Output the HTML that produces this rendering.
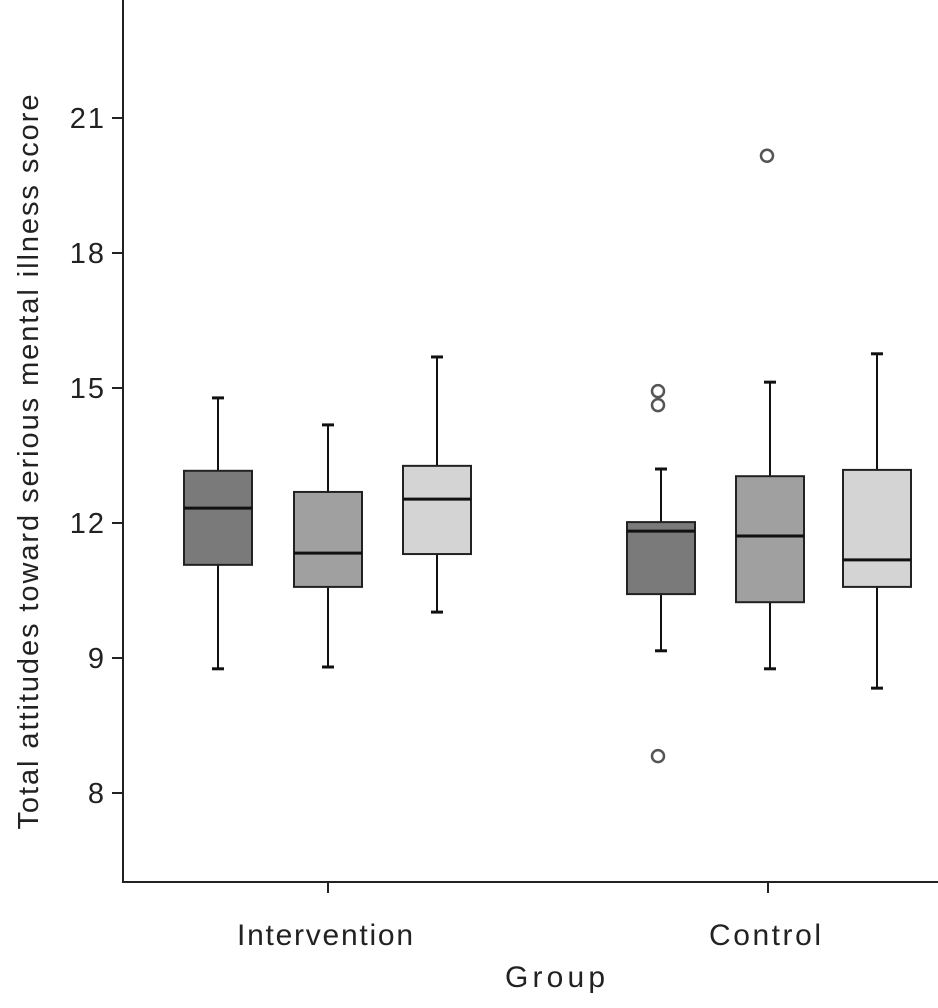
<!DOCTYPE html>
<html><head><meta charset="utf-8"><style>
html,body{margin:0;padding:0;background:#fff;}
svg text{font-family:"Liberation Sans",sans-serif;fill:#222;}
</style></head><body>
<svg id="chart" width="938" height="1003" viewBox="0 0 938 1003">
<g id="axes"></g><g id="boxes"></g>
</svg>
<script>
const groups = ["Intervention","Control"];
const groupX = [328, 768];
const fills = ["#7a7a7a","#a0a0a0","#d4d4d4"];
const whiskLow = [[8.76,8.8,10.02],[9.16,8.76,8.33]];
const q1 = [[11.07,10.58,11.31],[10.42,10.24,10.58]];
const medians = [[12.33,11.33,12.53],[11.82,11.71,11.18]];
const q3 = [[13.16,12.69,13.27],[12.02,13.04,13.18]];
const whiskHigh = [[14.78,14.18,15.69],[13.2,15.13,15.76]];
const outliers = [[[],[],[]],[[14.93,14.62,6.82],[20.16],[]]];
const tickValues = [6,9,12,15,18,21];
const tickLabels = ["8","9","12","15","18","21"];
const NS="http://www.w3.org/2000/svg";
const y = v => 523 - (v-12)*45;
function mk(tag, attrs, parent){const e=document.createElementNS(NS,tag);for(const k in attrs)e.setAttribute(k,attrs[k]);parent.appendChild(e);return e;}
const ax=document.getElementById('axes'), bx=document.getElementById('boxes');
let l=mk('line',{x1:123,y1:0,x2:123,y2:882,stroke:'#222','stroke-width':2},ax);


l=mk('line',{x1:122,y1:882,x2:938,y2:882,stroke:'#222','stroke-width':2},ax);


tickValues.forEach((v,i)=>{
  const t=mk('line',{x1:112,y1:y(v),x2:123,y2:y(v),stroke:'#222','stroke-width':2},ax);
  
  
  const tx=mk('text',{x:106,y:y(v)+10,'text-anchor':'end','font-size':29,'letter-spacing':2},ax);
  tx.textContent=tickLabels[i];
  
  
});
groups.forEach((g,gi)=>{
  const t=mk('line',{x1:groupX[gi],y1:882,x2:groupX[gi],y2:893,stroke:'#222','stroke-width':2},ax);
  
  
  const tx=mk('text',{x:groupX[gi]-3,y:945,'text-anchor':'middle','font-size':30,textLength:gi===0?176:112,lengthAdjust:'spacing'},ax);
  tx.textContent=g;
  
  
  [0,1,2].forEach(si=>{
    const w=68;
    const cc = gi===0 ? [218,328,437][si] : [661,770,877][si];
    const gEl=mk('g',{},bx);
    
    
    mk('line',{x1:cc,y1:y(whiskHigh[gi][si]),x2:cc,y2:y(whiskLow[gi][si]),stroke:'#111','stroke-width':2},gEl);
    mk('line',{x1:cc-6,y1:y(whiskHigh[gi][si]),x2:cc+6,y2:y(whiskHigh[gi][si]),stroke:'#111','stroke-width':3},gEl);
    mk('line',{x1:cc-6,y1:y(whiskLow[gi][si]),x2:cc+6,y2:y(whiskLow[gi][si]),stroke:'#111','stroke-width':3},gEl);
    mk('rect',{x:cc-w/2,y:y(q3[gi][si]),width:w,height:y(q1[gi][si])-y(q3[gi][si]),fill:fills[si],stroke:'#222','stroke-width':2},gEl);
    mk('line',{x1:cc-w/2,y1:y(medians[gi][si]),x2:cc+w/2,y2:y(medians[gi][si]),stroke:'#111','stroke-width':3},gEl);
    outliers[gi][si].forEach(v=>{
      const o=mk('circle',{cx:cc-3,cy:y(v),r:6,fill:'#fff',stroke:'#555','stroke-width':2.5},gEl);
      
      
    });
  });
});
let tt=mk('text',{x:555,y:987,'text-anchor':'middle','font-size':30,textLength:100,lengthAdjust:'spacing'},ax);
tt.textContent='Group';


tt=mk('text',{x:0,y:0,'text-anchor':'middle','font-size':29,textLength:735,lengthAdjust:'spacing',transform:'translate(38,462) rotate(-90)'},ax);
tt.textContent='Total attitudes toward serious mental illness score';


</script>
</body></html>
